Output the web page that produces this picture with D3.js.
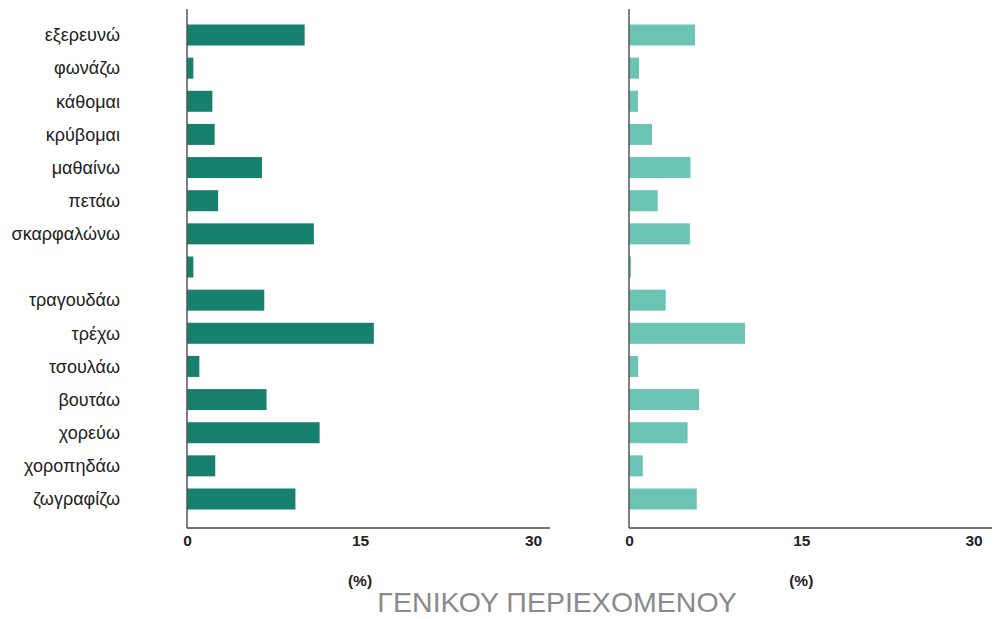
<!DOCTYPE html>
<html><head><meta charset="utf-8">
<script src="https://cdn.jsdelivr.net/npm/d3@7"></script>
<style>body{margin:0;background:#fff}svg{display:block;font-family:"Liberation Sans",Arial,sans-serif}</style>
</head><body><svg id="c" width="1000" height="619"></svg>
<script>
const categories = ["εξερευνώ","φωνάζω","κάθομαι","κρύβομαι","μαθαίνω","πετάω","σκαρφαλώνω","","τραγουδάω","τρέχω","τσουλάω","βουτάω","χορεύω","χοροπηδάω","ζωγραφίζω"];
const leftValues  = [10.2,0.55,2.2,2.4,6.5,2.7,11.0,0.55,6.7,16.2,1.07,6.9,11.5,2.45,9.4];
const rightValues = [5.75,0.87,0.78,2.0,5.35,2.5,5.3,0.17,3.2,10.1,0.8,6.1,5.1,1.2,5.9];
const tickValues = [0,15,30];
const axisLabel = "(%)";
const title = "ΓΕΝΙΚΟΥ ΠΕΡΙΕΧΟΜΕΝΟΥ";

const svg = d3.select("#c");
const y = d3.scaleBand().domain(categories.map((d,i)=>i)).range([18.43,515.57]).paddingInner(0.366).paddingOuter(0.183);

const panels = [
  {vals:leftValues, x0:187, x30:533, axisEnd:550, color:"#17806f"},
  {vals:rightValues, x0:629, x30:973.5, axisEnd:992, color:"#6cc4b4"}
];
const axisY = 528;
panels.forEach(p=>{
  const x = d3.scaleLinear().domain([0,30]).range([p.x0,p.x30]);
  const g = svg.append("g");
  g.selectAll("rect").data(p.vals).join("rect")
    .attr("x", x(0)).attr("y",(d,i)=>y(i)).attr("height",y.bandwidth())
    .attr("width", d=>x(d)-x(0)).attr("fill",p.color);
  g.append("line").attr("x1",x(0)).attr("x2",x(0)).attr("y1",9).attr("y2",axisY).attr("stroke","#555").attr("stroke-width",1.5);
  g.append("line").attr("x1",x(0)).attr("x2",p.axisEnd).attr("y1",axisY).attr("y2",axisY).attr("stroke","#444").attr("stroke-width",1.5);
  const ax = d3.axisBottom(x).tickValues(tickValues).tickSize(0).tickPadding(0).tickFormat(d3.format("d"));
  const ag = g.append("g").attr("transform",`translate(0,${axisY+7})`).call(ax);
  ag.select(".domain").remove();
  ag.selectAll("text").attr("dy","0.71em").attr("font-size",15.5).attr("font-weight","bold").attr("fill","#222")
    .attr("font-family","Liberation Sans, Arial, sans-serif");
  g.append("text").attr("x",(x(0)+x(30))/2).attr("y",586).attr("text-anchor","middle")
    .attr("font-size",15.5).attr("font-weight","bold").attr("fill","#222").text(axisLabel);
});
svg.append("g").selectAll("text").data(categories).join("text")
  .attr("x",120).attr("y",(d,i)=>y(i)+y.bandwidth()/2).attr("dy","0.35em")
  .attr("text-anchor","end").attr("font-size",18).attr("fill","#222").text(d=>d);
svg.append("text").attr("x",557).attr("y",612).attr("text-anchor","middle")
  .attr("font-size",28.5).attr("fill","#8a8a8a").text(title);
</script></body></html>
